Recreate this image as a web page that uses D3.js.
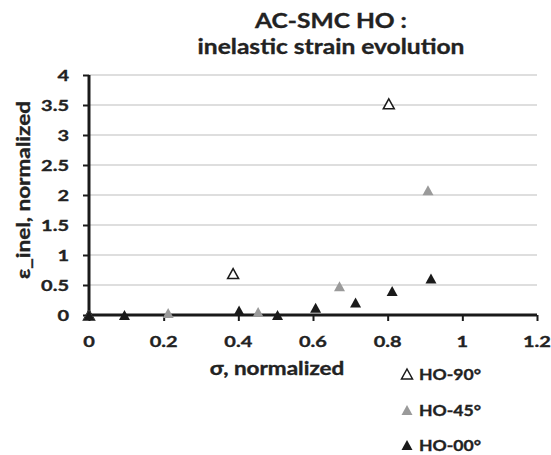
<!DOCTYPE html>
<html><head><meta charset="utf-8">
<script src="https://cdn.jsdelivr.net/npm/d3@7"></script>
<style>
html,body{margin:0;padding:0;background:#fff;}
text{font-family:Lato,"Open Sans",sans-serif;font-weight:bold;fill:#222;stroke:#222;stroke-width:0.35px;}
</style></head>
<body>
<svg id="chart" width="551" height="455"></svg>
<script>
// ---- data ----
const titleLines = ["AC-SMC HO :", "inelastic strain evolution"];
const xTicks = [0, 0.2, 0.4, 0.6, 0.8, 1, 1.2];
const yTicks = [0, 0.5, 1, 1.5, 2, 2.5, 3, 3.5, 4];
const xLabel = "σ, normalized";
const yLabel = "ε_inel, normalized";
const seriesNames = ["HO-90°", "HO-45°", "HO-00°"];
const ho90X = [0, 0.386, 0.803];
const ho90Y = [0, 0.69, 3.52];
const ho45X = [0, 0.212, 0.453, 0.671, 0.908];
const ho45Y = [0, 0.035, 0.05, 0.48, 2.08];
const ho00X = [0, 0.095, 0.402, 0.505, 0.607, 0.714, 0.812, 0.916];
const ho00Y = [0, 0, 0.075, 0, 0.12, 0.21, 0.40, 0.61];

const svg = d3.select("#chart");
const x = d3.scaleLinear().domain([0, 1.2]).range([89, 537]);
const y = d3.scaleLinear().domain([0, 4]).range([315, 75]);

function txt(g, px, py, s, size, anchor, sx, rot) {
  return g.append("text")
    .attr("transform", `translate(${px},${py})` + (rot ? ` rotate(${rot})` : "") + ` scale(${sx},1)`)
    .attr("text-anchor", anchor)
    .style("font-size", size + "px")
    .text(s);
}

// gridlines
svg.append("g").selectAll("line").data(yTicks.filter(d => d > 0)).join("line")
  .attr("x1", x(0)).attr("x2", x(1.2))
  .attr("y1", d => y(d)).attr("y2", d => y(d))
  .attr("stroke", "#bdbdbd").attr("stroke-width", 1);

// axes
const xAxis = svg.append("g").attr("transform", `translate(0,${y(0)})`)
  .call(d3.axisBottom(x).tickValues(xTicks).tickSize(6).tickFormat(""));
const yAxis = svg.append("g").attr("transform", `translate(${x(0)},0)`)
  .call(d3.axisLeft(y).tickValues(yTicks).tickSize(6).tickFormat(""));
[xAxis, yAxis].forEach(a => {
  a.select(".domain").attr("stroke", "#1a1a1a").attr("stroke-width", 3);
  a.selectAll(".tick line").attr("stroke", "#1a1a1a").attr("stroke-width", 2);
});
xAxis.select(".domain").attr("d", `M${x(0)},0H${x(1.2)}`);
yAxis.select(".domain").attr("d", `M0,${y(4)}V${y(0)}`);

// tick labels
const lbl = svg.append("g");
xTicks.forEach(v => txt(lbl, x(v), 347, d3.format("~g")(v), 16, "middle", 1.25));
yTicks.forEach(v => txt(lbl, 69, y(v) + 6, d3.format("~g")(v), 16, "end", 1.25));

// axis titles
txt(lbl, 277, 375, xLabel, 18, "middle", 1.25);
txt(lbl, 30, 190, yLabel, 18, "middle", 1.25, -90);

// title
txt(svg, 331, 28, titleLines[0], 21, "middle", 1.17);
txt(svg, 331, 54, titleLines[1], 21, "middle", 1.17);

// markers
const tri = "M0,-5L5.5,5L-5.5,5Z";
const styles = [
  {fill: "#ffffff", stroke: "#1a1a1a", sw: 1.5},
  {fill: "#9a9a9a", stroke: "none", sw: 0},
  {fill: "#1a1a1a", stroke: "none", sw: 0}
];
const series = [
  d3.zip(ho90X, ho90Y),
  d3.zip(ho45X, ho45Y),
  d3.zip(ho00X, ho00Y)
];
series.forEach((pts, i) => {
  svg.append("g").selectAll("path").data(pts).join("path")
    .attr("d", tri)
    .attr("transform", d => `translate(${x(d[0])},${y(d[1])})`)
    .attr("fill", styles[i].fill)
    .attr("stroke", styles[i].stroke)
    .attr("stroke-width", styles[i].sw);
});

// legend
const legY = [374, 410, 445];
const leg = svg.append("g");
seriesNames.forEach((n, i) => {
  leg.append("path").attr("d", tri)
    .attr("transform", `translate(407,${legY[i]})`)
    .attr("fill", styles[i].fill).attr("stroke", styles[i].stroke).attr("stroke-width", styles[i].sw);
  txt(leg, 419, legY[i] + 6, n, 16, "start", 1.1);
});
</script>
</body></html>
